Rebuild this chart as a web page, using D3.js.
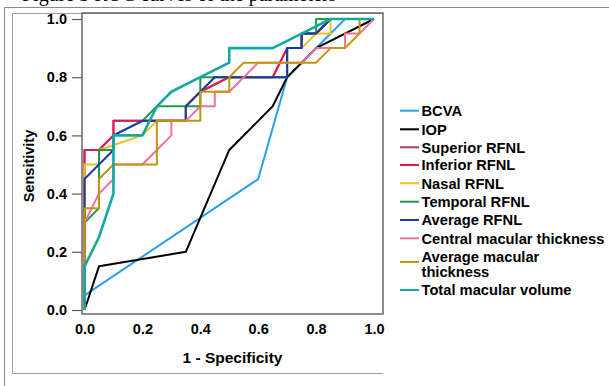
<!DOCTYPE html>
<html>
<head>
<meta charset="utf-8">
<script src="https://cdn.jsdelivr.net/npm/d3@7"></script>
<style>
  html, body { margin: 0; padding: 0; background: #fff; }
  svg { display: block; }
  .tick text { font-family: "Liberation Sans", Arial, sans-serif; font-weight: bold; font-size: 14.5px; fill: #000; }
</style>
</head>
<body>
<div id="chart"></div>
<script>
// ROC points [1 - specificity, sensitivity]
const bcva = [[0,0],[0,0.05],[0.6,0.45],[0.7,0.8],[0.9,1],[1,1]];
const iop = [[0,0],[0.05,0.15],[0.35,0.2],[0.5,0.55],[0.65,0.7],[0.7,0.8],[0.8,0.9],[1,1]];
const superiorRfnl = [[0,0],[0,0.55],[0.05,0.55],[0.1,0.6],[0.1,0.65],[0.35,0.65],[0.35,0.7],[0.4,0.75],[0.5,0.8],[0.65,0.8],[0.7,0.9],[0.75,0.9],[0.75,0.95],[0.8,0.95],[0.85,1],[1,1]];
const inferiorRfnl = [[0,0],[0,0.55],[0.05,0.55],[0.1,0.6],[0.1,0.65],[0.35,0.65],[0.35,0.7],[0.4,0.75],[0.5,0.8],[0.65,0.8],[0.7,0.9],[0.75,0.9],[0.75,0.95],[0.8,0.95],[0.85,1],[1,1]];
const nasalRfnl = [[0,0],[0,0.5],[0.05,0.5],[0.05,0.55],[0.2,0.6],[0.25,0.65],[0.35,0.65],[0.35,0.7],[0.4,0.75],[0.45,0.8],[0.7,0.8],[0.7,0.9],[0.75,0.9],[0.8,0.95],[0.85,0.95],[0.85,1],[1,1]];
const temporalRfnl = [[0,0],[0,0.3],[0.05,0.35],[0.05,0.55],[0.1,0.55],[0.1,0.6],[0.2,0.65],[0.25,0.7],[0.4,0.7],[0.4,0.8],[0.7,0.8],[0.7,0.9],[0.75,0.9],[0.75,0.95],[0.8,0.95],[0.8,1],[1,1]];
const averageRfnl = [[0,0],[0,0.45],[0.1,0.55],[0.1,0.6],[0.2,0.65],[0.35,0.65],[0.35,0.7],[0.4,0.75],[0.45,0.8],[0.7,0.8],[0.7,0.9],[0.75,0.9],[0.75,0.95],[0.8,0.95],[0.85,1],[1,1]];
const centralThickness = [[0,0],[0,0.3],[0.05,0.4],[0.1,0.45],[0.1,0.5],[0.2,0.5],[0.25,0.55],[0.3,0.6],[0.3,0.65],[0.35,0.65],[0.4,0.7],[0.45,0.7],[0.45,0.75],[0.5,0.75],[0.6,0.85],[0.75,0.85],[0.8,0.9],[0.9,0.9],[0.9,0.95],[0.95,0.95],[1,1]];
const averageThickness = [[0,0],[0,0.35],[0.05,0.35],[0.05,0.45],[0.1,0.5],[0.25,0.5],[0.25,0.65],[0.4,0.65],[0.4,0.75],[0.5,0.75],[0.5,0.8],[0.55,0.85],[0.8,0.85],[0.85,0.9],[0.9,0.9],[0.95,0.95],[0.95,1],[1,1]];
const totalVolume = [[0,0],[0,0.15],[0.05,0.25],[0.1,0.4],[0.1,0.6],[0.2,0.6],[0.25,0.7],[0.3,0.75],[0.4,0.8],[0.5,0.85],[0.5,0.9],[0.65,0.9],[0.75,0.95],[0.85,1],[1,1]];

const seriesNames = ["BCVA", "IOP", "Superior RFNL", "Inferior RFNL", "Nasal RFNL", "Temporal RFNL",
  "Average RFNL", "Central macular thickness", "Average macular thickness", "Total macular volume"];
const seriesColors = ["#2b9ef0", "#000000", "#a33c70", "#e31a4c", "#e9c21c", "#1f9a4b",
  "#1b38a4", "#f4719a", "#c2950e", "#13a99e"];
const seriesData = [bcva, iop, superiorRfnl, inferiorRfnl, nasalRfnl, temporalRfnl,
  averageRfnl, centralThickness, averageThickness, totalVolume];
const tickValues = [0, 0.2, 0.4, 0.6, 0.8, 1.0];

const W = 609, H = 386;
const PLOT = { left: 82, top: 13, right: 383, bottom: 314 };
const FONT = '"Liberation Sans", Arial, sans-serif';

const svg = d3.select("#chart").append("svg")
  .attr("width", W)
  .attr("height", H);

// caption of the page above, mostly cut off like in the source
svg.append("text")
  .attr("x", 22)
  .attr("y", 1)
  .attr("font-family", '"Liberation Serif", "Times New Roman", serif')
  .attr("font-size", 20)
  .text("Figure 3 ROC curves of the parameters");

// outer page lines
svg.append("line").attr("x1", 4.5).attr("x2", 4.5).attr("y1", 7.5).attr("y2", H)
  .attr("stroke", "#8a8a8a");
svg.append("line").attr("x1", 4.5).attr("x2", W).attr("y1", 7.5).attr("y2", 7.5)
  .attr("stroke", "#8a8a8a");

// chart frame
svg.append("path")
  .attr("d", `M${PLOT.right},373.5 H12.5 V13.5 H${PLOT.right}`)
  .attr("fill", "none")
  .attr("stroke", "#a0a0a0");

const x = d3.scaleLinear().domain([0, 1]).range([84.5, 374]);
const y = d3.scaleLinear().domain([0, 1]).range([310, 19]);

const line = d3.line()
  .x(d => x(d[0]))
  .y(d => y(d[1]));

const curves = svg.append("g");
seriesData.forEach((pts, i) => {
  curves.append("path")
    .datum(pts)
    .attr("d", line)
    .attr("fill", "none")
    .attr("stroke", seriesColors[i])
    .attr("stroke-width", i === 9 ? 2.6 : 2)
    .attr("stroke-linejoin", "round");
});

// plot frame
svg.append("rect")
  .attr("x", PLOT.left)
  .attr("y", PLOT.top)
  .attr("width", PLOT.right - PLOT.left)
  .attr("height", PLOT.bottom - PLOT.top)
  .attr("fill", "none")
  .attr("stroke", "#5e5e5e")
  .attr("stroke-width", 1.4);

const fmt = d3.format(".1f");

const yAxis = svg.append("g")
  .attr("transform", `translate(${PLOT.left},0)`)
  .call(d3.axisLeft(y).tickValues(tickValues).tickFormat(fmt).tickSize(10).tickPadding(5));
yAxis.select(".domain").remove();
yAxis.selectAll(".tick line").attr("stroke", "#5e5e5e").attr("stroke-width", 1.2);

const xAxis = svg.append("g")
  .attr("transform", `translate(0,${PLOT.bottom})`)
  .call(d3.axisBottom(x).tickValues(tickValues).tickFormat(fmt).tickSize(0).tickPadding(10));
xAxis.select(".domain").remove();

svg.append("text")
  .attr("x", (PLOT.left + PLOT.right) / 2)
  .attr("y", 362.5)
  .attr("text-anchor", "middle")
  .attr("font-family", FONT)
  .attr("font-weight", "bold")
  .attr("font-size", 15.5)
  .text("1 - Specificity");

svg.append("text")
  .attr("transform", "translate(33.5,166) rotate(-90)")
  .attr("text-anchor", "middle")
  .attr("font-family", FONT)
  .attr("font-weight", "bold")
  .attr("font-size", 14.5)
  .text("Sensitivity");

// legend
const legendRows = [110.7, 129.3, 147.3, 165, 183.3, 201.7, 220, 238.3, 262, 290];
const legend = svg.append("g");
seriesNames.forEach((name, i) => {
  const cy = legendRows[i];
  legend.append("line")
    .attr("x1", 400).attr("x2", 419)
    .attr("y1", cy).attr("y2", cy)
    .attr("stroke", seriesColors[i])
    .attr("stroke-width", 2);
  const t = legend.append("text")
    .attr("x", 421.5)
    .attr("font-family", FONT)
    .attr("font-weight", "bold")
    .attr("font-size", 14.7);
  if (name === "Average macular thickness") {
    t.append("tspan").attr("x", 421.5).attr("y", 256.7 + 5.2).text("Average macular");
    t.append("tspan").attr("x", 421.5).attr("y", 271.7 + 5.2).text("thickness");
  } else {
    t.attr("y", cy + 5.2).text(name);
  }
});
</script>
</body>
</html>
